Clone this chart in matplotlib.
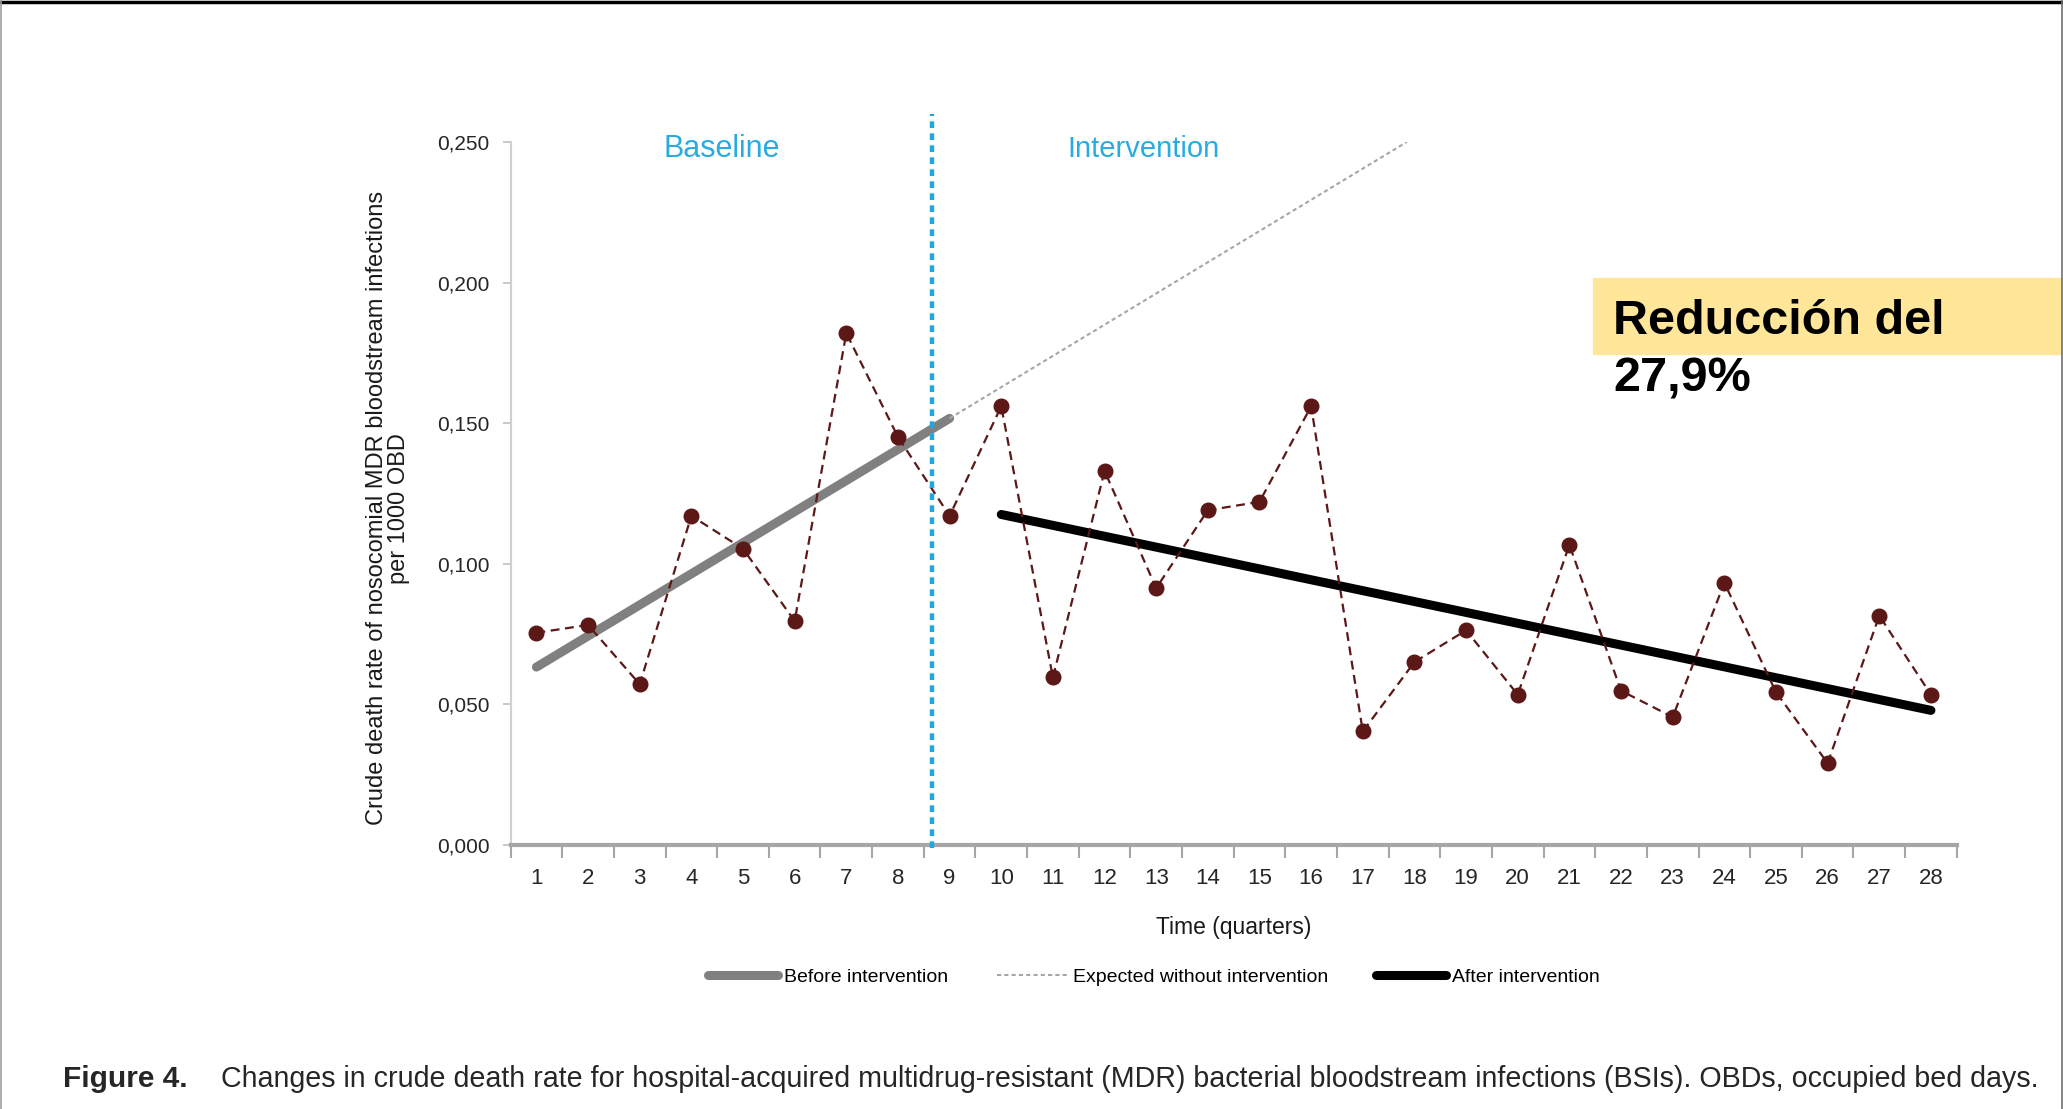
import matplotlib
matplotlib.use("Agg")
import matplotlib.pyplot as plt
from matplotlib.lines import Line2D
from matplotlib.patches import Rectangle

# quarterly crude death rate
quarters = list(range(1, 29))
rate = [0.0754, 0.0782, 0.0571, 0.1170, 0.1053, 0.0796, 0.1820, 0.1451,
        0.1170, 0.1560, 0.0595, 0.1330, 0.0913, 0.1190, 0.1220, 0.1560,
        0.0403, 0.0650, 0.0763, 0.0534, 0.1067, 0.0548, 0.0454, 0.0932,
        0.0543, 0.0290, 0.0815, 0.0534]

# fitted trends
before_x = [1, 9]
before_y = [0.0632, 0.1517]
expected_x = [9, 17.85]
expected_y = [0.1517, 0.2500]
after_x = [10, 28]
after_y = [0.1175, 0.0478]

cut_x = 8.65
yticks = [0.0, 0.05, 0.10, 0.15, 0.20, 0.25]
ytick_labels = ["0,000", "0,050", "0,100", "0,150", "0,200", "0,250"]

plt.rcParams["font.family"] = ["Liberation Sans", "DejaVu Sans"]

fig = plt.figure(figsize=(20.63, 11.09), dpi=100)
ax = fig.add_axes([0.2475, 0.2383, 0.701, 0.6336])

ax.plot(quarters, rate, color="#5c1717", lw=1.6, ls=(0, (4, 2.5)),
        marker="o", ms=10.5, mfc="#5c1717", mec="#5c1717", zorder=3)
ax.plot(before_x, before_y, color="#808080", lw=6.5, solid_capstyle="round",
        label="Before intervention", zorder=2)
ax.plot(expected_x, expected_y, color="#a6a6a6", lw=1.5, ls=(0, (2, 1.5)),
        label="Expected without intervention", zorder=2)
ax.plot(after_x, after_y, color="black", lw=6.5, solid_capstyle="round",
        label="After intervention", zorder=2)

ax.plot([cut_x, cut_x], [-0.001, 0.2600], color="#1ea7e1", lw=3.2,
        ls=(0, (1.5, 1.2)), clip_on=False, zorder=4)

ax.text(4.58, 0.2475, "Baseline", color="#29abe2", fontsize=22,
        ha="center", va="center")
ax.text(12.75, 0.2475, "Intervention", color="#29abe2", fontsize=21,
        ha="center", va="center")

ax.set_xlim(0.5, 28.5)
ax.set_ylim(0, 0.25)

ax.set_yticks(yticks)
ax.set_yticklabels(ytick_labels, fontsize=15, color="#262626")
ax.tick_params(axis="y", length=6, width=1.2, color="#bfbfbf", pad=9)

ax.set_xticks([q + 0.5 for q in range(0, 29)])
ax.set_xticklabels([])
ax.set_xticks(quarters, minor=True)
ax.set_xticklabels([str(q) for q in quarters], minor=True,
                   fontsize=16, color="#262626")
ax.tick_params(axis="x", which="major", length=9, width=1.5, color="#a6a6a6")
ax.tick_params(axis="x", which="minor", length=0, pad=17)

for s in ["top", "right"]:
    ax.spines[s].set_visible(False)
ax.spines["left"].set_color("#d0d0d0")
ax.spines["left"].set_linewidth(1.5)
ax.spines["bottom"].set_color("#a6a6a6")
ax.spines["bottom"].set_linewidth(3)

ax.set_ylabel("Crude death rate of nosocomial MDR bloodstream infections\nper 1000 OBD",
              fontsize=17, color="#1a1a1a", linespacing=1.0)
ax.yaxis.label.set_va("center")
ax.yaxis.set_label_coords(-0.085, 0.479)
ax.set_xlabel("Time (quarters)", fontsize=16.5, color="#1a1a1a")
ax.xaxis.label.set_va("center")
ax.xaxis.set_label_coords(0.5, -0.1185)

fig.legend(loc="center", bbox_to_anchor=(0.5594, 0.119), ncol=3, frameon=False,
           prop={"size": 14}, handlelength=3.6,
           handletextpad=0.3, columnspacing=2.5)

# annotation box
fig.patches.append(Rectangle((1593 / 2063, 1 - 354 / 1109), 470 / 2063, 76 / 1109,
                             transform=fig.transFigure, color="#ffe699", zorder=0))
fig.text(1613 / 2063, 1 - 322 / 1109, "Reducción del", fontsize=35,
         fontweight="bold", ha="left", va="center")
fig.text(1613 / 2063, 1 - 379 / 1109, "27,9%", fontsize=35,
         fontweight="bold", ha="left", va="center")

# caption
fig.text(63 / 2063, 1 - 1079 / 1109, "Figure 4.", fontsize=21.5,
         fontweight="bold", ha="left", va="center", color="#262626")
fig.text(221 / 2063, 1 - 1079 / 1109,
         "Changes in crude death rate for hospital-acquired multidrug-resistant (MDR) "
         "bacterial bloodstream infections (BSIs). OBDs, occupied bed days.",
         fontsize=20.6, ha="left", va="center", color="#262626")

# page frame
fig.add_artist(Line2D([0, 1], [0.9985, 0.9985], transform=fig.transFigure,
                      color="black", lw=2.5))
fig.add_artist(Line2D([0.0004, 0.0004], [0, 1], transform=fig.transFigure,
                      color="#a0a0a0", lw=1.2))
fig.add_artist(Line2D([2061.5 / 2063, 2061.5 / 2063], [0, 1], transform=fig.transFigure,
                      color="#707070", lw=1.2))

fig.savefig("out.png", dpi=100)
